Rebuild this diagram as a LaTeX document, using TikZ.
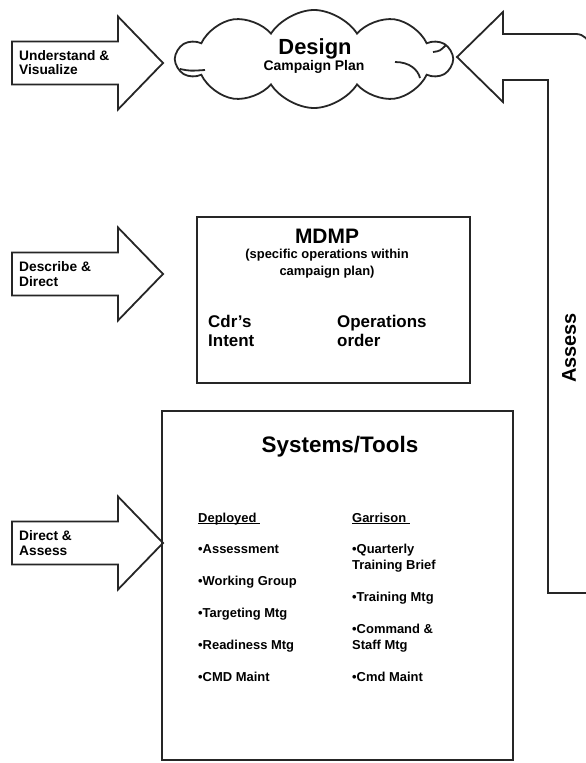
\documentclass[tikz,border=0pt]{standalone}
\usepackage{fontspec}
\setmainfont{Liberation Sans}
\usetikzlibrary{shapes.symbols}
\begin{document}
\begin{tikzpicture}[x=1bp, y=-1bp,
  outline/.style = {draw=black!85, line width=1.8bp, line join=miter},
  lbl/.style = {font=\bfseries\fontsize{13.8}{15}\selectfont, inner sep=0pt,
     align=left, anchor=base west},
  item/.style = {font=\bfseries\fontsize{13}{16}\selectfont, inner sep=0pt,
     align=left, anchor=base west},
  mid/.style = {font=\bfseries\fontsize{17}{19}\selectfont, inner sep=0pt,
     align=left, anchor=base west},
  sub/.style = {font=\bfseries\fontsize{13}{17}\selectfont, inner sep=0pt,
     align=center, anchor=base},
  big/.style = {font=\bfseries\fontsize{#1}{#1}\selectfont, inner sep=0pt,
     anchor=base}]
\useasboundingbox (0,0) rectangle (586,763);
\clip (0,0) rectangle (586,763);

% block arrows on the left
\foreach \y/\txt/\nm in {63/{Understand \&\\Visualize}/uv,
    274/{Describe \&\\Direct}/dd, 543/{Direct \&\\Assess}/da}{
  \draw[outline] (12,\y-21.5) -- (118,\y-21.5) -- (118,\y-46.5) -- (163,\y)
    -- (118,\y+46.5) -- (118,\y+21.5) -- (12,\y+21.5) -- cycle;
  \node[lbl] (\nm) at (19,\y+12) {\txt};
}

% design cloud
\node[outline, cloud, cloud puffs=10, cloud puff arc=115, aspect=2.8,
  minimum width=274bp, minimum height=98bp] (design) at (314,59) {};
\draw[outline] (180,69) .. controls (190,71) .. (205,70);
\draw[outline] (395,62) .. controls (410,62) and (418,70) .. (420,78);
\draw[outline] (433,52) .. controls (440,51) .. (446,45);
\node[big=22] (designlbl) at (315,55) {Design};
\node[big=14] (planlbl) at (314,71) {Campaign Plan};

% assess feedback arrow
\draw[outline] (620,593) -- (548,593) -- (548,80) -- (503,80) -- (503,102)
  -- (457,57) -- (503,12) -- (503,34) [rounded corners=14bp] -- (590,34)
  -- (590,620);
\node[big=20, rotate=90, anchor=center] (assess) at (569,348) {Assess};

% MDMP
\node[outline, minimum width=273bp, minimum height=166bp, inner sep=0pt]
  (mdmp) at (333.5,300) {};
\node[big=21] (mdmplbl) at (327,243) {MDMP};
\node[sub] (mdmpsub) at (327,275) {(specific operations within\\campaign plan)};
\node[mid] (intent) at (208,346) {Cdr’s\\Intent};
\node[mid] (opord) at (337,346) {Operations\\order};

% systems and tools
\node[outline, minimum width=351bp, minimum height=349bp, inner sep=0pt]
  (systems) at (337.5,585.5) {};
\node[big=22.5] (syslbl) at (340,452) {Systems/Tools};
\node[item] (deployed) at (198,522) {\underline{\smash{Deployed}\ }};
\node[item] (garrison) at (352,522) {\underline{\smash{Garrison}\ }};
\foreach \txt [count=\i from 0] in {Assessment, Working Group, Targeting Mtg,
    Readiness Mtg, CMD Maint}
  \node[item] (dep\i) at (198,553+32*\i) {\textbullet\txt};
\node[item] (gar0) at (352,569) {\textbullet Quarterly\\Training Brief};
\node[item] (gar1) at (352,601) {\textbullet Training Mtg};
\node[item] (gar2) at (352,649) {\textbullet Command \&\\Staff Mtg};
\node[item] (gar3) at (352,681) {\textbullet Cmd Maint};
\end{tikzpicture}
\end{document}
